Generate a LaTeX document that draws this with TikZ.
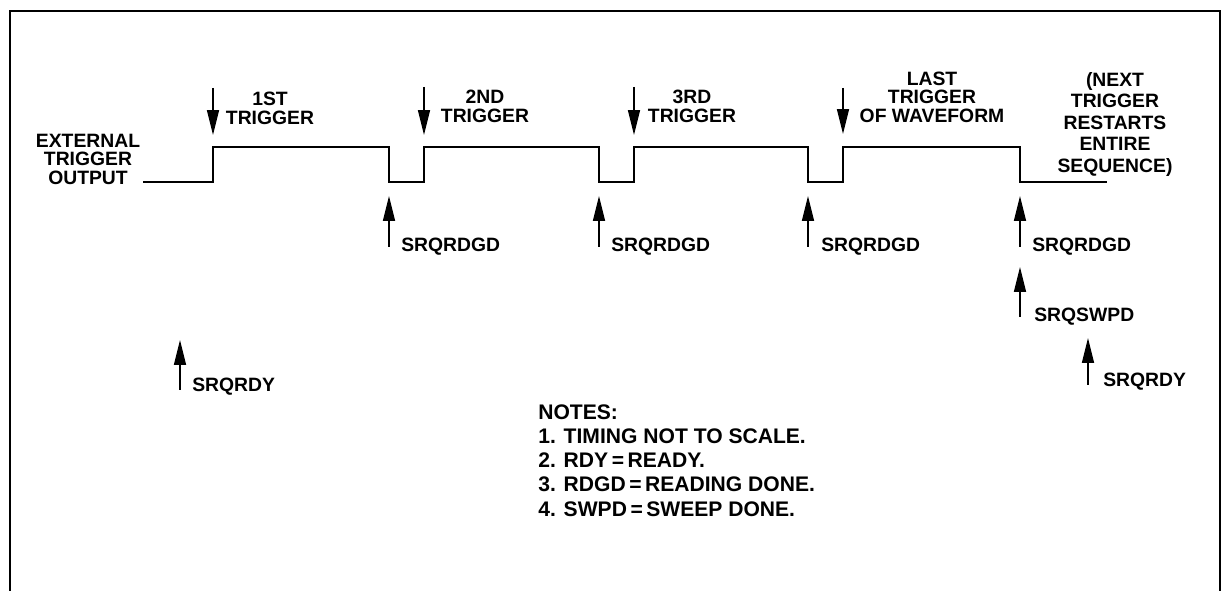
\documentclass[tikz,border=0pt]{standalone}
\usepackage{fontspec}
\setmainfont{Liberation Sans}
\usetikzlibrary{arrows.meta,positioning,calc}

\begin{document}
\begin{tikzpicture}[
  x=0.02cm, y=-0.02cm,
  lbl/.style={inner sep=0pt, align=center, font=\fontsize{11}{10.6}\selectfont\bfseries},
  tag/.style={inner sep=0pt, anchor=base west, font=\fontsize{11}{11}\selectfont\bfseries},
  wave/.style={line width=1.1pt, line join=miter},
  trig/.style={-{Triangle[length=0.5cm,width=0.24cm]}, line width=0.8pt},
  frame/.style={line width=1.2pt}
]
\useasboundingbox (0,0) rectangle (1225,591);
\draw[frame] (10,591) -- (10,11) -- (1220,11) -- (1220,591);

% waveform edges
\coordinate (w0) at (143,182);
\coordinate (up1) at (213,147);
\coordinate (dn1) at (389,182);
\coordinate (up2) at (424,147);
\coordinate (dn2) at (599,182);
\coordinate (up3) at (634,147);
\coordinate (dn3) at (808,182);
\coordinate (up4) at (843,147);
\coordinate (dn4) at (1020,182);
\coordinate (wend) at (1107,182);
\draw[wave] (w0) -| (up1) -| (dn1) -| (up2) -| (dn2) -| (up3) -| (dn3) -| (up4) -| (dn4) -- (wend);

% trigger arrows
\coordinate (t1s) at (213,88);  \coordinate (t1e) at (213,135);
\coordinate (t2s) at (424,87);  \coordinate (t2e) at (424,135);
\coordinate (t3s) at (634,87);  \coordinate (t3e) at (634,135);
\coordinate (t4s) at (843,88);  \coordinate (t4e) at (843,134);
\draw[trig] (t1s) -- (t1e);
\draw[trig] (t2s) -- (t2e);
\draw[trig] (t3s) -- (t3e);
\draw[trig] (t4s) -- (t4e);

% service requests
\coordinate (d1s) at (389,247);  \coordinate (d1e) at (389,196);
\coordinate (d2s) at (599,247);  \coordinate (d2e) at (599,196);
\coordinate (d3s) at (808,247);  \coordinate (d3e) at (808,196);
\coordinate (d4s) at (1020,247); \coordinate (d4e) at (1020,196);
\coordinate (sws) at (1020,317); \coordinate (swe) at (1020,267);
\coordinate (ry1s) at (180,390); \coordinate (ry1e) at (180,340);
\coordinate (ry2s) at (1088,385); \coordinate (ry2e) at (1088,338);
\draw[trig] (d1s) -- (d1e);
\draw[trig] (d2s) -- (d2e);
\draw[trig] (d3s) -- (d3e);
\draw[trig] (d4s) -- (d4e);
\draw[trig] (sws) -- (swe);
\draw[trig] (ry1s) -- (ry1e);
\draw[trig] (ry2s) -- (ry2e);

% labels
\node[lbl, anchor=south] (ext) at (88,185) {EXTERNAL\\TRIGGER\\OUTPUT};
\node[lbl, anchor=south] (lt1) at (270,125) {1ST\\TRIGGER};
\node[lbl, anchor=south] (lt2) at (485,123) {2ND\\TRIGGER};
\node[lbl, anchor=south] (lt3) at (692,123) {3RD\\TRIGGER};
\node[lbl, anchor=south] (lt4) at (932,123) {LAST\\TRIGGER\\OF WAVEFORM};
\node[lbl, anchor=north, font=\fontsize{11}{12.2}\selectfont\bfseries] (nxt) at (1115,72)
  {(NEXT\\TRIGGER\\RESTARTS\\ENTIRE\\SEQUENCE)};

\node[tag] (q1) at ($(d1s)+(12,5)$) {SRQRDGD};
\node[tag] (q2) at ($(d2s)+(12,5)$) {SRQRDGD};
\node[tag] (q3) at ($(d3s)+(13,5)$) {SRQRDGD};
\node[tag] (q4) at ($(d4s)+(12,5)$) {SRQRDGD};
\node[tag] (qsw) at ($(sws)+(14,5)$) {SRQSWPD};
\node[tag] (qry1) at ($(ry1s)+(12,2)$) {SRQRDY};
\node[tag] (qry2) at ($(ry2s)+(15,2)$) {SRQRDY};

\node[anchor=north west, align=left, inner sep=0pt, font=\fontsize{12}{13.8}\selectfont\bfseries] (notes) at (538,404)
  {NOTES:\\1. TIMING NOT TO SCALE.\\2. RDY\,=\,READY.\\3. RDGD\,=\,READING DONE.\\4. SWPD\,=\,SWEEP DONE.};
\end{tikzpicture}
\end{document}
